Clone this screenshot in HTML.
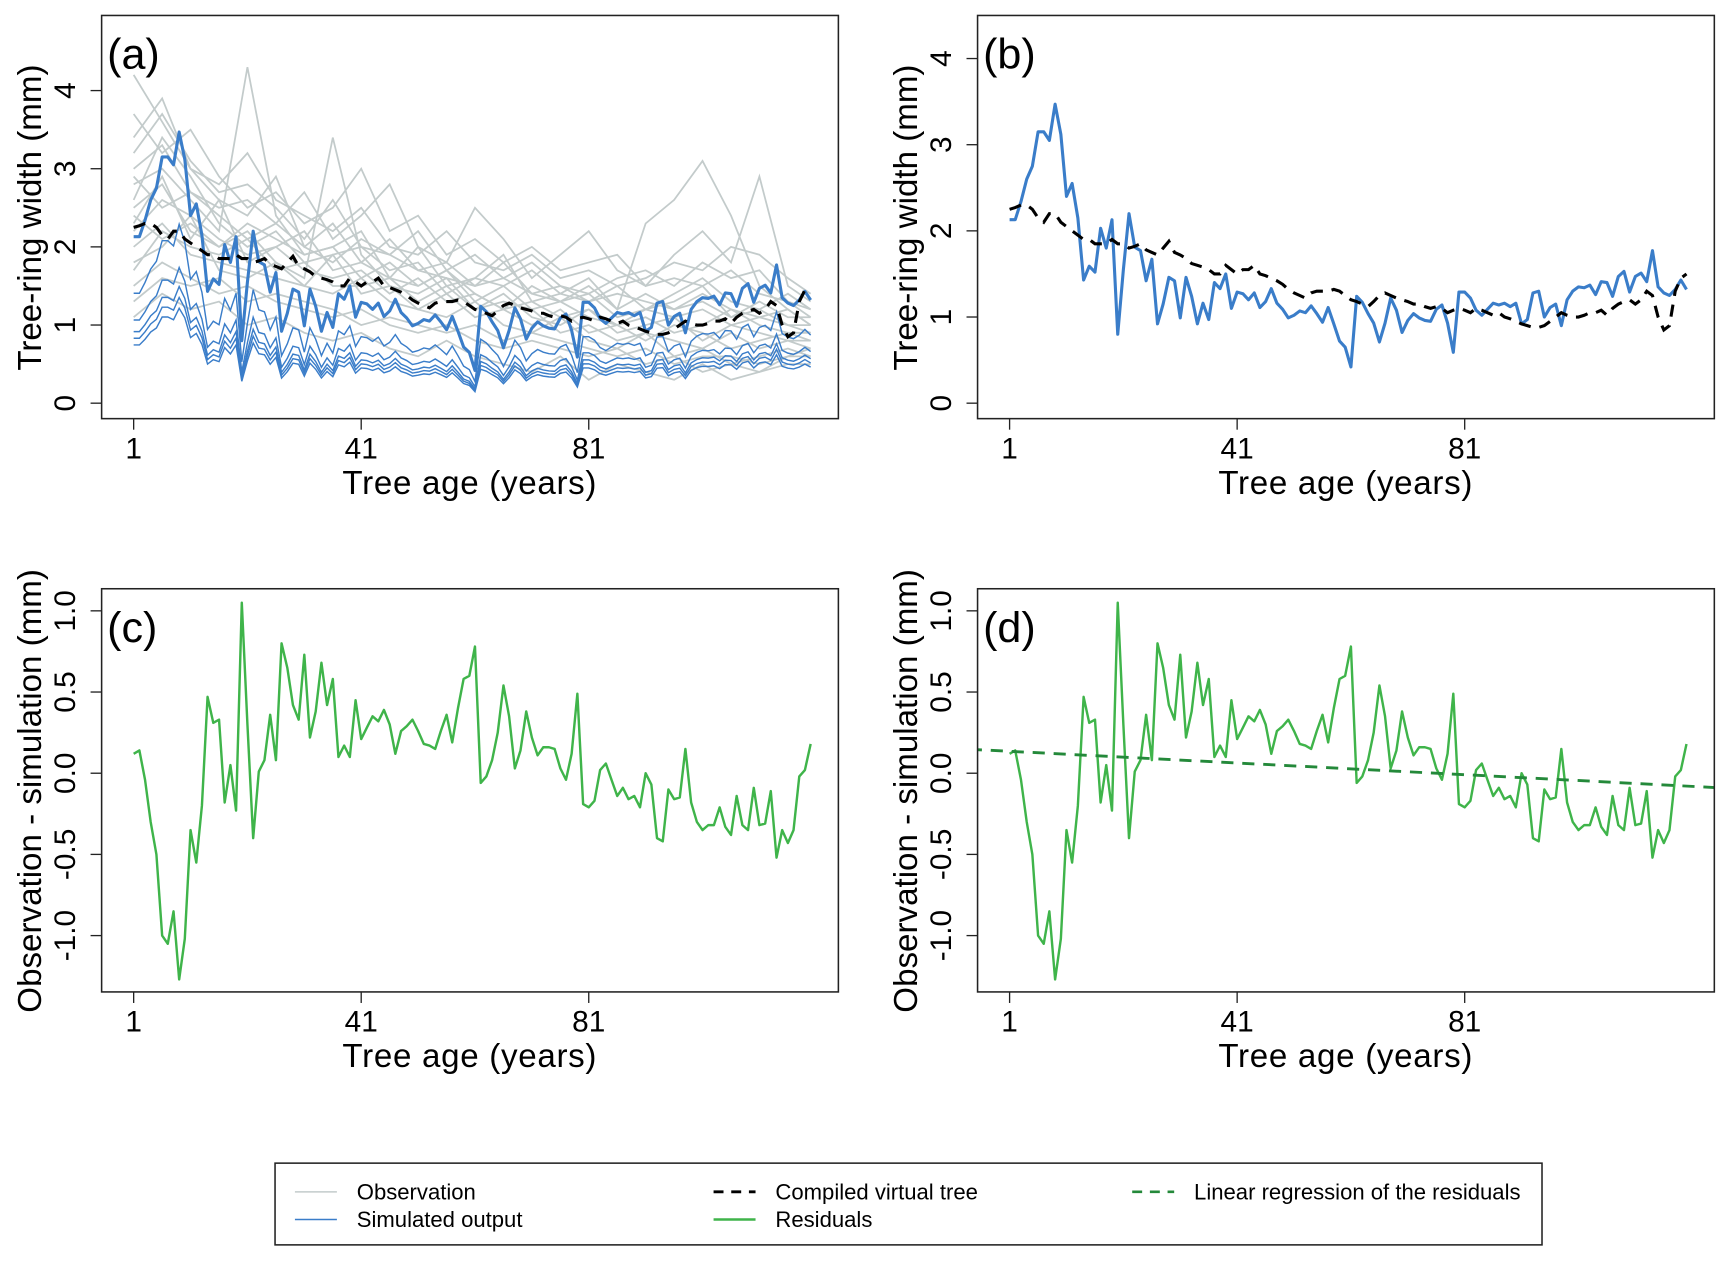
<!DOCTYPE html>
<html><head><meta charset="utf-8"><style>
html,body{margin:0;padding:0;background:#fff;overflow:hidden;}
svg{display:block;font-family:"Liberation Sans",sans-serif;}
</style></head><body>
<svg id="fig" width="1732" height="1262" viewBox="0 0 1568 1142.5" preserveAspectRatio="none" xmlns="http://www.w3.org/2000/svg"></svg>
<script>
const ages = Array.from({length:120},(_,i)=>i+1);
const compiled = [2.25,2.27,2.3,2.3,2.25,2.15,2.1,2.2,2.2,2.1,
2.05,2.0,1.95,1.9,1.9,1.85,1.85,1.85,1.9,1.85,
1.85,1.8,1.82,1.85,1.78,1.75,1.72,1.8,1.88,1.75,
1.72,1.68,1.62,1.6,1.58,1.55,1.5,1.5,1.6,1.55,
1.5,1.55,1.55,1.6,1.5,1.48,1.45,1.42,1.38,1.32,
1.28,1.25,1.22,1.28,1.3,1.3,1.3,1.32,1.3,1.25,
1.2,1.18,1.15,1.12,1.18,1.25,1.28,1.25,1.22,1.2,
1.18,1.15,1.15,1.12,1.1,1.12,1.1,1.05,1.08,1.1,
1.08,1.05,1.1,1.08,1.05,1.02,1.05,1.0,0.98,0.95,
0.92,0.9,0.88,0.88,0.9,0.95,1.0,1.05,1.02,1.0,
1.0,1.02,1.05,1.05,1.08,1.02,1.1,1.15,1.18,1.2,
1.15,1.2,1.3,1.25,1.0,0.85,0.9,1.3,1.45,1.5];
const residuals = [0.12,0.14,-0.04,-0.3,-0.5,-1.0,-1.05,-0.85,-1.27,-1.02,
-0.35,-0.55,-0.2,0.47,0.31,0.33,-0.18,0.05,-0.23,1.05,
0.3,-0.4,0.01,0.08,0.36,0.08,0.8,0.65,0.42,0.33,
0.73,0.22,0.38,0.68,0.42,0.58,0.1,0.17,0.1,0.45,
0.21,0.28,0.35,0.32,0.39,0.3,0.12,0.26,0.29,0.33,
0.26,0.18,0.17,0.15,0.26,0.36,0.19,0.4,0.58,0.6,
0.78,-0.06,-0.02,0.08,0.25,0.54,0.35,0.03,0.14,0.38,
0.22,0.11,0.16,0.16,0.15,0.03,-0.04,0.12,0.49,-0.19,
-0.21,-0.17,0.02,0.06,-0.04,-0.14,-0.09,-0.16,-0.14,-0.21,
0.0,-0.07,-0.4,-0.42,-0.1,-0.16,-0.15,0.15,-0.18,-0.3,
-0.35,-0.32,-0.32,-0.21,-0.33,-0.38,-0.14,-0.32,-0.35,-0.09,
-0.32,-0.31,-0.11,-0.52,-0.35,-0.43,-0.35,-0.02,0.02,0.18];
const simulated = compiled.map((c,i)=>c-residuals[i]);
const treeFactors = [0.35,0.39,0.43,0.5,0.66];
const obsAges = [1,6,11,16,21,26,31,36,41,46,51,56,61,66,71,76,81,86,91,96,101,106,111,116,120];
const obs1 = [4.2,3.6,3.0,2.8,3.2,2.6,2.4,2.2,2.5,2.0,1.9,2.2,1.8,1.7,1.9,1.6,1.7,1.5,1.6,1.8,1.7,2.0,1.9,1.6,1.4];
const obs2 = [3.4,3.9,3.0,2.6,2.4,2.9,2.0,2.3,1.8,2.1,1.7,1.6,1.5,1.8,1.4,1.3,1.5,1.2,2.3,2.6,3.1,2.4,1.5,1.2,1.0];
const obs3 = [2.8,3.0,2.6,2.2,4.3,2.4,1.9,2.0,2.2,1.6,1.5,1.7,1.4,1.2,1.5,1.3,1.1,1.0,1.2,1.3,1.5,1.1,1.2,1.0,0.9];
const obs4 = [2.5,2.8,2.2,2.0,2.2,1.8,1.6,3.4,1.9,1.5,1.4,1.6,1.2,1.4,1.1,1.0,1.2,0.9,1.0,1.1,0.8,1.0,0.9,0.8,0.8];
const obs5 = [2.0,2.3,1.9,1.8,1.7,1.6,1.5,1.4,1.6,1.3,1.2,1.1,1.3,1.0,0.9,1.1,0.8,0.7,0.9,0.6,0.7,0.5,0.6,0.7,0.6];
const obs6 = [1.5,1.8,1.6,1.4,1.5,1.3,1.2,1.1,1.2,1.0,0.9,1.0,0.8,0.7,0.8,0.7,0.6,0.7,0.5,0.6,0.4,0.5,0.4,0.5,0.5];
const obs7 = [1.1,1.4,1.2,1.3,1.0,1.1,0.9,0.8,0.9,0.7,0.6,0.8,0.6,0.5,0.4,0.6,0.3,0.5,0.4,0.3,0.5,0.3,0.4,0.6,0.7];
const obs8 = [3.0,3.3,2.7,2.5,2.6,2.3,2.7,2.1,2.4,2.8,2.0,1.8,2.5,2.1,1.6,1.9,2.2,1.7,1.5,1.9,2.2,1.8,2.9,1.5,1.3];
const obs9 = [2.2,2.6,2.4,2.1,1.9,2.0,2.2,1.7,1.8,1.6,2.0,1.5,1.6,1.9,1.3,1.4,1.6,1.2,1.4,1.2,1.3,1.1,1.3,1.1,1.1];
const obs10 = [3.7,3.2,3.5,2.9,2.5,2.7,2.3,2.5,3.0,2.2,2.4,1.9,2.1,1.8,2.0,1.7,1.8,1.9,1.5,1.6,1.5,1.7,1.4,1.3,1.2];
const obs11 = [1.8,2.0,2.4,1.7,1.6,1.8,1.5,1.9,1.4,1.5,1.2,1.4,1.1,1.2,1.0,1.2,0.9,1.0,0.8,1.0,0.9,0.7,0.8,0.9,0.8];
const obs12 = [2.6,3.4,2.9,2.3,2.0,2.2,1.8,1.9,2.0,1.7,1.8,1.4,1.6,1.5,1.7,1.4,1.3,1.5,1.2,1.4,1.6,1.3,1.2,1.4,1.2];
const obs13 = [2.9,2.5,2.7,2.4,2.1,2.3,2.0,1.8,2.1,1.9,1.7,1.8,1.5,1.6,1.4,1.5,1.3,1.4,1.3,1.2,1.4,1.2,1.1,1.2,1.0];
const obs14 = [2.3,2.9,2.1,2.6,1.8,2.0,1.7,1.6,1.7,1.4,1.6,1.3,1.4,1.2,1.3,1.1,1.2,1.0,1.1,0.9,1.0,1.2,1.0,0.9,0.9];
const obs15 = [1.7,2.2,2.0,1.9,2.1,1.7,1.8,1.5,1.5,1.6,1.3,1.5,1.2,1.3,1.2,0.9,1.0,0.8,0.9,0.8,0.7,0.9,0.7,0.8,0.7];
const obs16 = [3.2,3.7,3.1,2.7,2.8,2.5,2.1,2.6,2.0,1.9,2.2,1.7,1.9,1.6,1.8,1.5,1.4,1.6,1.7,1.5,1.8,1.6,1.7,1.3,1.1];
const obs17 = [1.3,1.6,1.5,1.6,1.3,1.4,1.3,1.2,1.0,1.1,1.0,0.9,1.0,0.8,0.9,0.8,0.7,0.6,0.7,0.5,0.6,0.6,0.5,0.6,0.6];
const obs18 = [2.4,2.1,2.3,2.0,2.3,2.1,1.9,2.0,1.6,1.8,1.5,1.7,1.3,1.5,1.2,1.3,1.4,1.1,1.2,1.1,1.2,1.0,1.1,1.0,1.0];
const observations = [obs1,obs2,obs3,obs4,obs5,obs6,obs7,obs8,obs9,obs10,obs11,obs12,obs13,obs14,obs15,obs16,obs17,obs18];
const xTicks = [1,41,81];
const yTicksTop = [0,1,2,3,4];
const yTicksBot = [-1.0,-0.5,0.0,0.5,1.0];
const yTickLabelsBot = ["-1.0","-0.5","0.0","0.5","1.0"];

const NS="http://www.w3.org/2000/svg";
const svg=document.getElementById('fig');
function mk(tag,attrs,parent){const e=document.createElementNS(NS,tag);for(const k in attrs)e.setAttribute(k,attrs[k]);(parent||svg).appendChild(e);return e;}

const panels=[
 {id:'a',ox:0,oy:0,y0:365,sy:70.75,top:true},
 {id:'b',ox:793,oy:0,y0:365,sy:78,top:true},
 {id:'c',ox:0,oy:519,y0:181,sy:147,top:false},
 {id:'d',ox:793,oy:519,y0:181,sy:147,top:false}
];
function xs(p,a){return p.ox+121+5.15*(a-1);}
function ys(p,v){return p.oy+p.y0-p.sy*v;}
function pathOf(p,xa,ya){return xa.map((a,i)=>(i?'L':'M')+xs(p,a).toFixed(1)+','+ys(p,ya[i]).toFixed(1)).join('');}

panels.forEach(p=>{
 const g=mk('g',{});
 
 
 const cp=mk('clipPath',{id:'clip'+p.id},g);
 mk('rect',{x:p.ox+92,y:p.oy+14,width:667,height:365},cp);
 const plot=mk('g',{'clip-path':'url(#clip'+p.id+')'},g);
 if(p.id==='a'){
  observations.forEach((s,k)=>{
   const l=mk('path',{d:pathOf(p,obsAges,s),fill:'none',stroke:'#c3cbcb','stroke-width':1.6},plot);
   
   
  });
  treeFactors.forEach((f,k)=>{
   const l=mk('path',{d:pathOf(p,ages,simulated.map(v=>v*f)),fill:'none',stroke:'#3a7dc9','stroke-width':1.3},plot);
   
   
  });
 }
 if(p.top){
  const sl=mk('path',{d:pathOf(p,ages,simulated),fill:'none',stroke:'#3a7dc9','stroke-width':2.8,'stroke-linejoin':'round'},plot);
  
  
  const cl=mk('path',{d:pathOf(p,ages,compiled),fill:'none',stroke:'#000','stroke-width':2.8,'stroke-dasharray':'11,8'},plot);
  
  
 } else {
  const rl=mk('path',{d:pathOf(p,ages,residuals),fill:'none',stroke:'#3fb44a','stroke-width':2.2,'stroke-linejoin':'round'},plot);
  
  
  if(p.id==='d'){
   const n=ages.length;const mx=ages.reduce((a,b)=>a+b)/n;const my=residuals.reduce((a,b)=>a+b)/n;
   let sxy=0,sxx=0;ages.forEach((a,i)=>{sxy+=(a-mx)*(residuals[i]-my);sxx+=(a-mx)*(a-mx);});
   const b=sxy/sxx,a0=my-b*mx;const aL=-6,aR=130;
   const rg=mk('line',{x1:xs(p,aL),y1:ys(p,a0+b*aL),x2:xs(p,aR),y2:ys(p,a0+b*aR),stroke:'#24893a','stroke-width':2.6,'stroke-dasharray':'11,8'},plot);
   
   
  }
 }
 const box=mk('rect',{x:p.ox+92,y:p.oy+14,width:667,height:365,fill:'none',stroke:'#222','stroke-width':1.4},g);
 
 
 xTicks.forEach(t=>{
  mk('line',{x1:xs(p,t),y1:p.oy+379,x2:xs(p,t),y2:p.oy+389,stroke:'#222','stroke-width':1.2},g);
  const tl=mk('text',{x:xs(p,t),y:p.oy+415,'text-anchor':'middle','font-size':27},g);
  tl.textContent=t;
  
  
 });
 const xt=mk('text',{x:p.ox+425,y:p.oy+447,'text-anchor':'middle','font-size':30,textLength:230},g);
 xt.textContent='Tree age (years)';
 
 
 const yt=p.top?yTicksTop:yTicksBot;
 yt.forEach((t,i)=>{
  const y=ys(p,t);
  mk('line',{x1:p.ox+82,y1:y,x2:p.ox+92,y2:y,stroke:'#222','stroke-width':1.2},g);
  const lx=p.ox+68;
  const tl=mk('text',{x:lx,y:y,'text-anchor':'middle','font-size':27,transform:'rotate(-90 '+lx+' '+y+')'},g);
  tl.textContent=p.top?String(t):yTickLabelsBot[i];
  
  
 });
 const ly=p.oy+197, lx2=p.ox+37;
 const ytt=mk('text',{x:lx2,y:ly,'text-anchor':'middle','font-size':30,transform:'rotate(-90 '+lx2+' '+ly+')'},g);
 ytt.textContent=p.top?'Tree-ring width (mm)':'Observation - simulation (mm)';
 
 
 const pl=mk('text',{x:p.ox+97,y:p.oy+62,'font-size':39},g);
 pl.textContent='('+p.id+')';
 
 
});

const lg=mk('g',{});


mk('rect',{x:249,y:1053,width:1147,height:74,fill:'#fff',stroke:'#222','stroke-width':1.4},lg);
const legendLabels=['Observation','Simulated output','Compiled virtual tree','Residuals','Linear regression of the residuals'];
const legendColors=['#c3cbcb','#3a7dc9','#000','#3fb44a','#24893a'];
const legendDash=['none','none','9,7','none','9,7'];
const legendWidth=[1.3,1.3,2.6,2.2,2.4];
const legendCol=[0,0,1,1,2];
const legendRow=[0,1,0,1,0];
const colX=[267,646,1025];
legendLabels.forEach((t,i)=>{
 const e=mk('g',{},lg);
 
 
 const y=1079+legendRow[i]*25, x=colX[legendCol[i]];
 mk('line',{x1:x,y1:y,x2:x+38,y2:y,stroke:legendColors[i],'stroke-width':legendWidth[i],'stroke-dasharray':legendDash[i]},e);
 const tx=mk('text',{x:x+56,y:y+7,'font-size':20},e);
 tx.textContent=t;
});
</script>
</body></html>
